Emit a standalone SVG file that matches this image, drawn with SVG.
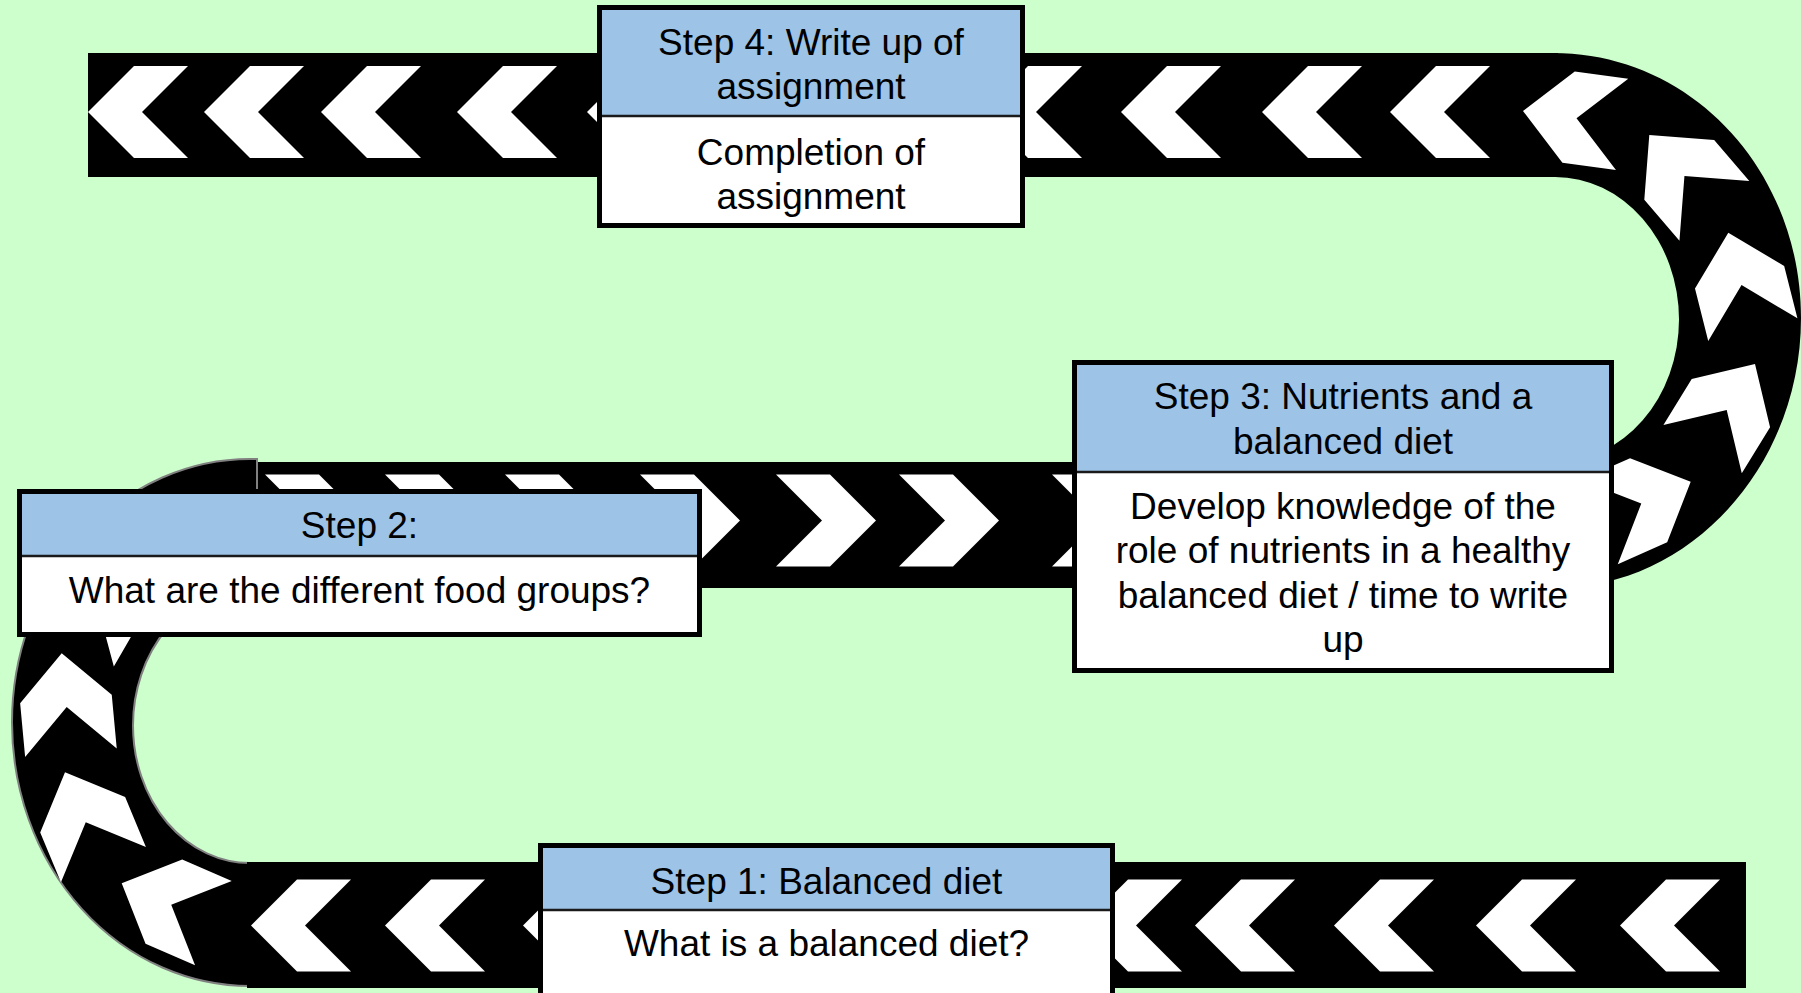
<svg xmlns="http://www.w3.org/2000/svg" xmlns:xlink="http://www.w3.org/1999/xlink" width="1801" height="993" viewBox="0 0 1801 993">
<defs>
<style>
.road{fill:#000}
.ustroke{fill:none;stroke:#808080;stroke-width:2}
.chev{fill:#fff}
.hdr{fill:#9DC3E6}
.bdy{fill:#fff}
.div{stroke:#1a1a1a;stroke-width:2.5}
.brd{fill:none;stroke:#000;stroke-width:5}
.t{font-family:"Liberation Sans",Arial,sans-serif;font-size:37px;fill:#000;text-anchor:middle}
</style>
<path id="chev" class="chev" d="M0,0 L-46,-46 L-100,-46 L-54,0 L-100,46 L-46,46 Z"/>
</defs>
<rect width="1801" height="993" fill="#CCFFCC"/>

<g id="connectors">
  <!-- road: straight segments and U-turns -->
  <rect class="road" x="88" y="53" width="1470" height="124"/>
  <rect class="road" x="257" y="462" width="1301" height="126"/>
  <path class="road" d="M1553,53 C1693,53 1801,172 1801,318 C1801,466 1690,588 1555,588 L1555,462 A124,142.5 0 0 0 1555,177 Z"/>
  <path class="road" d="M257,459 L250,459 A238,263.5 0 0 0 250,986 L250,863 A117,137.5 0 0 1 250,588 L257,588 Z"/>
  <path class="ustroke" d="M250,986 A238,263.5 0 0 1 250,459 L257,459 L257,489"/>
  <path class="ustroke" d="M250,863 A117,137.5 0 0 1 250,588"/>
  <rect class="road" x="247" y="862" width="1499" height="126"/>

  <!-- top road chevrons (pointing left) -->
  <use xlink:href="#chev" transform="translate(88,112) rotate(180)"/>
  <use xlink:href="#chev" transform="translate(204,112) rotate(180)"/>
  <use xlink:href="#chev" transform="translate(321,112) rotate(180)"/>
  <use xlink:href="#chev" transform="translate(457,112) rotate(180)"/>
  <use xlink:href="#chev" transform="translate(587,112) rotate(180)"/>
  <use xlink:href="#chev" transform="translate(982,112) rotate(180)"/>
  <use xlink:href="#chev" transform="translate(1121,112) rotate(180)"/>
  <use xlink:href="#chev" transform="translate(1262,112) rotate(180)"/>
  <use xlink:href="#chev" transform="translate(1390,112) rotate(180)"/>
  <!-- right U-turn chevrons -->
  <use xlink:href="#chev" transform="translate(1523,111) rotate(187.7)"/>
  <use xlink:href="#chev" transform="translate(1649.3,135) rotate(229.4)"/>
  <use xlink:href="#chev" transform="translate(1728.3,232.7) rotate(255.8)"/>
  <use xlink:href="#chev" transform="translate(1755,364) rotate(301.6)"/>
  <use xlink:href="#chev" transform="translate(1690.7,481.7) rotate(336.2)"/>
  <!-- middle road chevrons (pointing right) -->
  <use xlink:href="#chev" transform="translate(365,520.5)"/>
  <use xlink:href="#chev" transform="translate(485,520.5)"/>
  <use xlink:href="#chev" transform="translate(605,520.5)"/>
  <use xlink:href="#chev" transform="translate(740,520.5)"/>
  <use xlink:href="#chev" transform="translate(876,520.5)"/>
  <use xlink:href="#chev" transform="translate(999,520.5)"/>
  <use xlink:href="#chev" transform="translate(1152,520.5)"/>
  <!-- left U-turn chevrons -->
  <use xlink:href="#chev" transform="translate(121.7,883.3) rotate(203.5)"/>
  <use xlink:href="#chev" transform="translate(65,772.3) rotate(247.4)"/>
  <use xlink:href="#chev" transform="translate(61.7,653.3) rotate(264.7)"/>
  <use xlink:href="#chev" transform="translate(124,557) rotate(300)"/>
  <!-- bottom road chevrons (pointing left) -->
  <use xlink:href="#chev" transform="translate(251,925.5) rotate(180)"/>
  <use xlink:href="#chev" transform="translate(385,925.5) rotate(180)"/>
  <use xlink:href="#chev" transform="translate(523,925.5) rotate(180)"/>
  <use xlink:href="#chev" transform="translate(1082,925.5) rotate(180)"/>
  <use xlink:href="#chev" transform="translate(1195,925.5) rotate(180)"/>
  <use xlink:href="#chev" transform="translate(1334,925.5) rotate(180)"/>
  <use xlink:href="#chev" transform="translate(1476,925.5) rotate(180)"/>
  <use xlink:href="#chev" transform="translate(1620,925.5) rotate(180)"/>
</g>

<g id="step4">
  <rect class="bdy" x="597" y="5" width="428" height="223"/>
  <rect class="hdr" x="597" y="5" width="428" height="111"/>
  <line class="div" x1="597" y1="116" x2="1025" y2="116"/>
  <rect class="brd" x="599.5" y="7.5" width="423" height="218"/>
  <text class="t" x="811" y="54.5">Step 4: Write up of</text>
  <text class="t" x="811" y="99">assignment</text>
  <text class="t" x="811" y="164.5">Completion of</text>
  <text class="t" x="811" y="209">assignment</text>
</g>

<g id="step3">
  <rect class="bdy" x="1072" y="360" width="542" height="313"/>
  <rect class="hdr" x="1072" y="360" width="542" height="112"/>
  <line class="div" x1="1072" y1="472" x2="1614" y2="472"/>
  <rect class="brd" x="1074.5" y="362.5" width="537" height="308"/>
  <text class="t" x="1343" y="409">Step 3: Nutrients and a</text>
  <text class="t" x="1343" y="453.5">balanced diet</text>
  <text class="t" x="1343" y="518.5">Develop knowledge of the</text>
  <text class="t" x="1343" y="563">role of nutrients in a healthy</text>
  <text class="t" x="1343" y="607.5">balanced diet / time to write</text>
  <text class="t" x="1343" y="652">up</text>
</g>

<g id="step2">
  <rect class="bdy" x="17" y="489" width="685" height="148"/>
  <rect class="hdr" x="17" y="489" width="685" height="67"/>
  <line class="div" x1="17" y1="556" x2="702" y2="556"/>
  <rect class="brd" x="19.5" y="491.5" width="680" height="143"/>
  <text class="t" x="359.5" y="538">Step 2:</text>
  <text class="t" x="359.5" y="603">What are the different food groups?</text>
</g>

<g id="step1">
  <rect class="bdy" x="538" y="843" width="577" height="160"/>
  <rect class="hdr" x="538" y="843" width="577" height="67"/>
  <line class="div" x1="538" y1="910" x2="1115" y2="910"/>
  <rect class="brd" x="540.5" y="845.5" width="572" height="160"/>
  <text class="t" x="826.5" y="893.5">Step 1: Balanced diet</text>
  <text class="t" x="826.5" y="956">What is a balanced diet?</text>
</g>
</svg>
